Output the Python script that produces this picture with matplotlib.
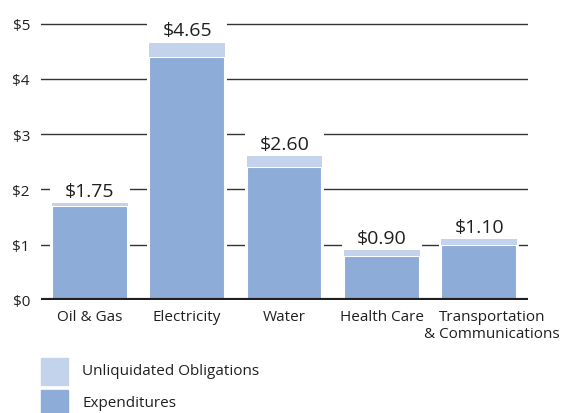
import matplotlib
matplotlib.use("Agg")
import matplotlib.pyplot as plt
import numpy as np

plt.rcParams["font.family"] = ["Open Sans", "DejaVu Sans"]

categories = ["Oil & Gas", "Electricity", "Water", "Health Care",
              "Transportation\n& Communications"]
totals = [1.75, 4.65, 2.60, 0.90, 1.10]
expenditures = [1.70, 4.40, 2.40, 0.80, 1.00]
obligations = [t - e for t, e in zip(totals, expenditures)]
y_ticks = [0, 1, 2, 3, 4, 5]
y_labels = ["$0", "$1", "$2", "$3", "$4", "$5"]

EXP_COLOR = "#8eacd8"
OBL_COLOR = "#c4d3ec"
TEXT_COLOR = "#231f20"

fig = plt.figure(figsize=(5.73, 4.14), dpi=100)
ax = fig.add_axes([41 / 573, 1 - 301 / 414, 487 / 573, 301 / 414])

x = np.arange(len(categories))

# gridlines, broken around each bar column and its value label
for y in y_ticks[1:]:
    ax.axhline(y, color="#333333", lw=1.0, zorder=0.5)
ax.bar(x, [t + 0.45 for t in totals], width=0.82, color="white", zorder=1)

ax.bar(x, expenditures, width=0.78, color=EXP_COLOR, edgecolor="white",
       lw=1.5, zorder=2, label="Expenditures")
ax.bar(x, obligations, bottom=expenditures, width=0.78, color=OBL_COLOR,
       edgecolor="white", lw=0.0, zorder=2, label="Unliquidated Obligations")

for xi, t in zip(x, totals):
    ax.annotate(f"${t:.2f}", (xi, t), xytext=(0, 2.5), textcoords="offset points",
                ha="center", va="bottom", fontsize=14, color=TEXT_COLOR, zorder=3)

ax.axhline(0, color=TEXT_COLOR, lw=3, zorder=4)

ax.set_xlim(-0.5, 4.5)
ax.set_ylim(0, 301 / 55.3)
ax.set_yticks(y_ticks)
ax.set_yticklabels(y_labels, fontsize=11, color=TEXT_COLOR)
ax.tick_params(axis="y", length=0, pad=8)
ax.set_xticks([])
for spine in ax.spines.values():
    spine.set_visible(False)

for i, name in enumerate(categories):
    dx = 0.13 if "\n" in name else 0
    ax.text(i + dx, -0.17, name, ha="center", va="top", fontsize=11,
            color=TEXT_COLOR, linespacing=1.1)

# legend drawn as swatches below the plot
legend_items = [("Unliquidated Obligations", OBL_COLOR), ("Expenditures", EXP_COLOR)]
for k, (label, color) in enumerate(legend_items):
    top = 359 + k * 32
    fig.patches.append(plt.Rectangle((41 / 573, 1 - (top + 27) / 414), 27 / 573, 27 / 414,
                                     transform=fig.transFigure, color=color))
    fig.text(82 / 573, 1 - (top + 13) / 414, label, ha="left", va="center",
             fontsize=11, color=TEXT_COLOR)

fig.savefig("out.png", dpi=100)
